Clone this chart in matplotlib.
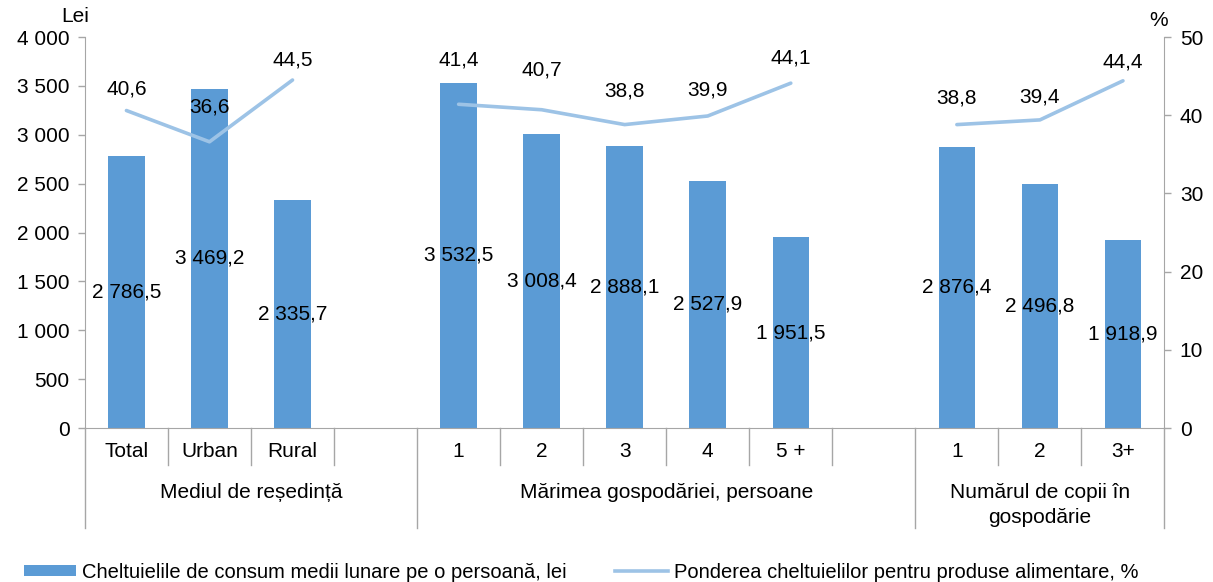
import numpy as np
import matplotlib
matplotlib.use("Agg")
import matplotlib.pyplot as plt
from matplotlib.lines import Line2D
from matplotlib.patches import Patch

plt.rcParams['font.family'] = ['Liberation Sans', 'DejaVu Sans']

# slot labels (empty strings are gap slots between groups)
categories = ["Total", "Urban", "Rural", "", "1", "2", "3", "4", "5 +", "", "1", "2", "3+"]
spending = [2786.5, 3469.2, 2335.7, np.nan, 3532.5, 3008.4, 2888.1, 2527.9, 1951.5,
            np.nan, 2876.4, 2496.8, 1918.9]
food_share = [40.6, 36.6, 44.5, np.nan, 41.4, 40.7, 38.8, 39.9, 44.1,
              np.nan, 38.8, 39.4, 44.4]
groups = ["Mediul de reședință", "Mărimea gospodăriei, persoane", "Numărul de copii în\ngospodărie"]
group_bounds = [(-0.5, 3.5), (3.5, 9.5), (9.5, 12.5)]
left_ticks = [0, 500, 1000, 1500, 2000, 2500, 3000, 3500, 4000]
right_ticks = [0, 10, 20, 30, 40, 50]

# how far above each line point its label sits (pixels), as placed in the original
label_lift_px = [22, 35, 20, 0, 44, 40, 34, 26, 25, 0, 27, 23, 19]

bar_color = "#5B9BD5"
line_color = "#9DC3E6"
axis_color = "#A6A6A6"
fs = 15


def fmt_num(v, decimals=1):
    s = f"{v:,.{decimals}f}"
    return s.replace(",", " ").replace(".", ",")


fig = plt.figure(figsize=(12.13, 5.82), dpi=100)
ax = fig.add_axes([0.070, 0.2646, 0.890, 0.6718])
ax2 = ax.twinx()

x = np.arange(len(categories))
valid = ~np.isnan(spending)
ax.bar(x[valid], np.array(spending)[valid], width=0.44, color=bar_color, zorder=2)
for xi, v in zip(x[valid], np.array(spending)[valid]):
    ax.text(xi, v / 2, fmt_num(v), ha="center", va="center", fontsize=fs, zorder=5)

ax2.plot(x, food_share, color=line_color, linewidth=2.6, solid_capstyle="round")
for xi, v, lift in zip(x, food_share, label_lift_px):
    if not np.isnan(v):
        ax2.annotate(fmt_num(v), (xi, v), xytext=(0, lift * 72 / 100),
                     textcoords="offset points", ha="center", va="center", fontsize=fs)

ax.set_xlim(-0.5, len(categories) - 0.5)
ax.set_ylim(0, 4000)
ax2.set_ylim(0, 50)
ax.set_yticks(left_ticks)
ax.set_yticklabels([fmt_num(t, 0) for t in left_ticks], fontsize=fs)
ax2.set_yticks(right_ticks)
ax2.set_yticklabels([str(t) for t in right_ticks], fontsize=fs)

ax.set_xticks([])
tr = ax.get_xaxis_transform()
for xi, lab in zip(x, categories):
    if lab:
        ax.text(xi, -0.059, lab, transform=tr, ha="center", va="center", fontsize=fs)

# separators below the axis
for b in np.arange(-0.5, len(categories), 1.0):
    is_long = any(abs(b - g[0]) < 1e-6 or abs(b - g[1]) < 1e-6 for g in group_bounds)
    y_end = -0.256 if is_long else -0.095
    ax.add_line(Line2D([b, b], [0, y_end], transform=tr, color=axis_color,
                       linewidth=1, clip_on=False))

for (a, b), name in zip(group_bounds, groups):
    lines = name.split("\n")
    for i, part in enumerate(lines):
        ax.text((a + b) / 2, -0.164 - 0.064 * i, part, transform=tr,
                ha="center", va="center", fontsize=fs)

for a in (ax, ax2):
    a.spines["top"].set_visible(False)
    for s in ("left", "right", "bottom"):
        a.spines[s].set_color(axis_color)
    a.tick_params(axis="y", colors=axis_color, labelcolor="black", length=5, width=1, pad=6)
ax.spines["right"].set_visible(False)
ax2.spines["left"].set_visible(False)
ax2.spines["bottom"].set_visible(False)

fig.text(75 / 1213, 1 - 16 / 582, "Lei", ha="center", va="center", fontsize=fs)
fig.text(1159 / 1213, 1 - 20 / 582, "%", ha="center", va="center", fontsize=fs)

handles = [Patch(facecolor=bar_color),
           Line2D([0], [0], color=line_color, linewidth=2.6)]
labels = ["Cheltuielile de consum medii lunare pe o persoană, lei",
          "Ponderea cheltuielilor pentru produse alimentare, %"]
fig.legend(handles, labels, loc="center", bbox_to_anchor=(0.479, 1 - 572 / 582),
           ncol=2, frameon=False, fontsize=14.5, handlelength=2.6, handleheight=0.5,
           handletextpad=0.3, columnspacing=2.4, borderpad=0)

fig.savefig("out.png", dpi=100)
